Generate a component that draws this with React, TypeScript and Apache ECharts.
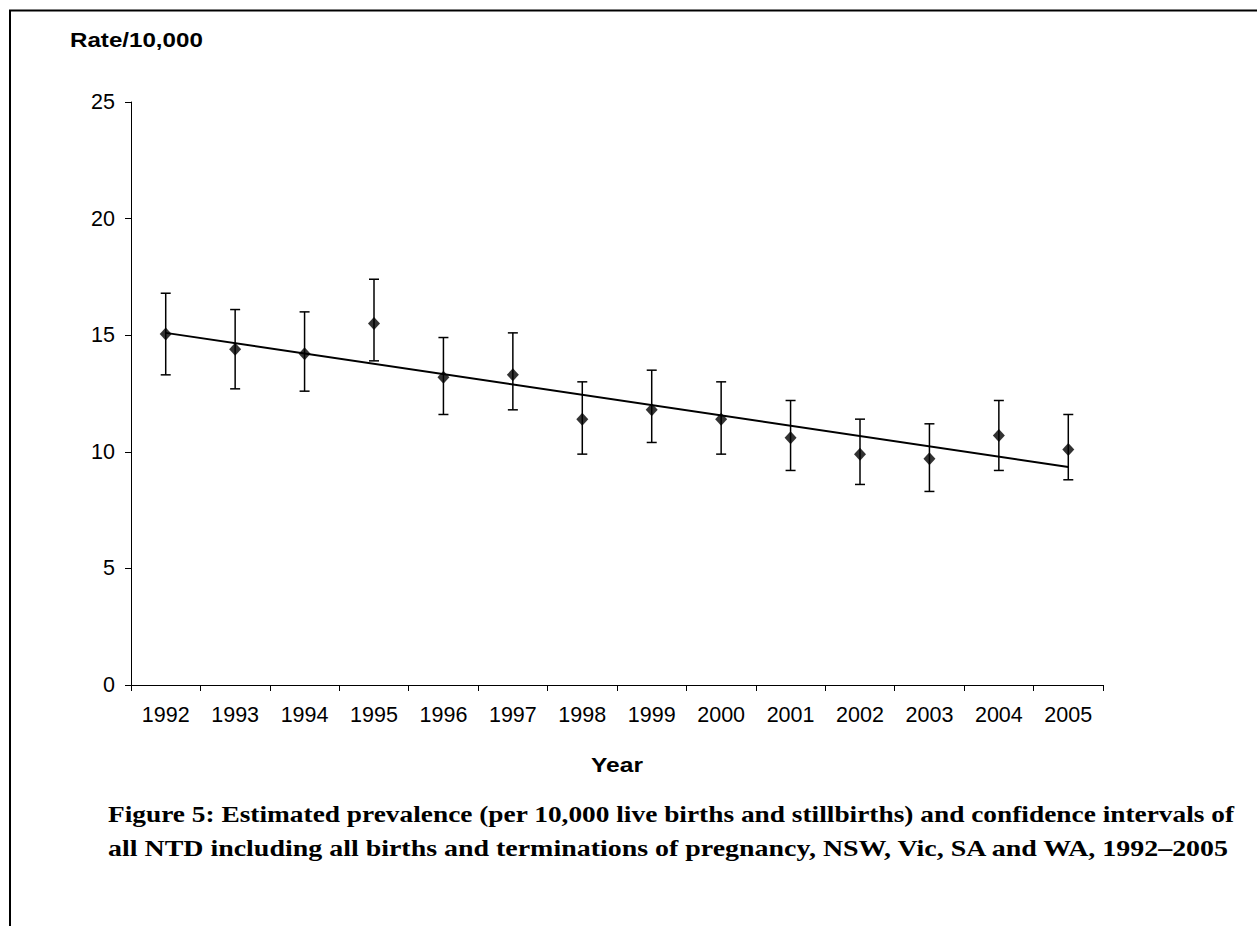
import React, { useEffect, useRef } from "react";
import * as echarts from "echarts";

const years = ["1992", "1993", "1994", "1995", "1996", "1997", "1998", "1999", "2000", "2001", "2002", "2003", "2004", "2005"];
const rates = [15.05, 14.4, 14.2, 15.5, 13.2, 13.3, 11.4, 11.8, 11.4, 10.6, 9.9, 9.7, 10.7, 10.1];
const lowerCI = [13.3, 12.7, 12.6, 13.9, 11.6, 11.8, 9.9, 10.4, 9.9, 9.2, 8.6, 8.3, 9.2, 8.8];
const upperCI = [16.8, 16.1, 16.0, 17.4, 14.9, 15.1, 13.0, 13.5, 13.0, 12.2, 11.4, 11.2, 12.2, 11.6];
const trendStart = 15.1;
const trendEnd = 9.35;
const yTicks = [0, 5, 10, 15, 20, 25];

const caption1 = "Figure 5: Estimated prevalence (per 10,000 live births and stillbirths) and confidence intervals of";
const caption2 = "all NTD including all births and terminations of pregnancy, NSW, Vic, SA and WA, 1992\u20132005";

export default function App() {
  const ref = useRef<HTMLDivElement>(null);
  useEffect(() => {
    if (!ref.current) return;
    const chart = echarts.init(ref.current, undefined, { renderer: "svg" });
    const errData = years.map((_, i) => [i, lowerCI[i], upperCI[i]]);
    chart.setOption({
      animation: false,
      backgroundColor: "#fff",
      grid: { left: 131, top: 102, right: 154, bottom: 241 },
      xAxis: {
        type: "category",
        data: years,
        boundaryGap: true,
        axisLine: { lineStyle: { color: "#000", width: 1 } },
        axisTick: { show: true, length: 6, lineStyle: { color: "#000" } },
        axisLabel: { color: "#000", fontFamily: "Liberation Sans, Arial", fontSize: 21.5, margin: 19 },
        splitLine: { show: false },
      },
      yAxis: {
        type: "value",
        min: yTicks[0],
        max: yTicks[yTicks.length - 1],
        interval: 5,
        axisLine: { show: true, lineStyle: { color: "#000", width: 1 } },
        axisTick: { show: true, length: 6, lineStyle: { color: "#000" } },
        axisLabel: { color: "#000", fontFamily: "Liberation Sans, Arial", fontSize: 21.5, margin: 16 },
        splitLine: { show: false },
      },
      series: [
        {
          type: "line",
          data: [[0, trendStart], [years.length - 1, trendEnd]],
          showSymbol: false,
          symbol: "none",
          lineStyle: { color: "#000", width: 2 },
          z: 2,
        },
        {
          type: "custom",
          data: errData,
          renderItem: (params: any, api: any) => {
            const x = api.value(0);
            const lo = api.coord([x, api.value(1)]);
            const hi = api.coord([x, api.value(2)]);
            const hw = 5;
            const style = { stroke: "#000", lineWidth: 1.5 };
            return {
              type: "group",
              children: [
                { type: "line", shape: { x1: lo[0], y1: lo[1], x2: hi[0], y2: hi[1] }, style },
                { type: "line", shape: { x1: hi[0] - hw, y1: hi[1], x2: hi[0] + hw, y2: hi[1] }, style },
                { type: "line", shape: { x1: lo[0] - hw, y1: lo[1], x2: lo[0] + hw, y2: lo[1] }, style },
              ],
            };
          },
          z: 3,
        },
        {
          type: "scatter",
          data: rates,
          symbol: "diamond",
          symbolSize: [12, 13],
          itemStyle: { color: "#000" },
          z: 4,
        },
      ],
      graphic: [
        { type: "line", shape: { x1: 9, y1: 10.5, x2: 1257, y2: 10.5 }, style: { stroke: "#000", lineWidth: 2 } },
        { type: "line", shape: { x1: 10, y1: 10, x2: 10, y2: 926 }, style: { stroke: "#000", lineWidth: 2 } },
        {
          type: "text", x: 70, y: 40, scaleX: 1.15,
          style: { text: "Rate/10,000", font: "bold 21px 'Liberation Sans', Arial", fill: "#000", verticalAlign: "middle" },
        },
        {
          type: "text", x: 617, y: 765, scaleX: 1.17,
          style: { text: "Year", font: "bold 21px 'Liberation Sans', Arial", fill: "#000", align: "center", verticalAlign: "middle" },
        },
        {
          type: "text", x: 108, y: 814, scaleX: 1.19,
          style: { text: caption1, font: "bold 23px 'Liberation Serif', serif", fill: "#000", verticalAlign: "middle" },
        },
        {
          type: "text", x: 108, y: 848, scaleX: 1.215,
          style: { text: caption2, font: "bold 23px 'Liberation Serif', serif", fill: "#000", verticalAlign: "middle" },
        },
      ],
    });
    return () => chart.dispose();
  }, []);
  return <div ref={ref} style={{ position: "absolute", left: 0, top: 0, width: 1257, height: 926 }} />;
}
